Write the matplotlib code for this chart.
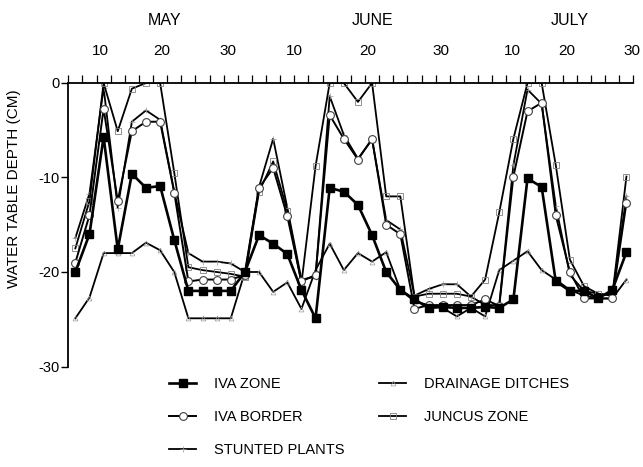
import matplotlib
matplotlib.use("Agg")
import matplotlib.pyplot as plt
from matplotlib.transforms import blended_transform_factory
import numpy as np

plt.rcParams['font.family'] = ['Liberation Sans', 'DejaVu Sans']

# Water table depth (cm) at each of 40 sampling visits, May - July
iva_zone = [-20, -16, -5.7, -17.6, -9.6, -11.1, -10.9, -16.6, -22, -22,
            -22, -22, -20, -16.1, -17, -18.1, -21.9, -24.9, -11.1, -11.5,
            -12.9, -16.1, -20, -21.9, -22.9, -23.8, -23.7, -23.8, -23.8, -23.7,
            -23.8, -22.9, -10.1, -11.0, -21, -22, -22, -22.8, -21.9, -17.9]
iva_border = [-19, -14, -2.7, -12.5, -5.1, -4.1, -4.1, -11.6, -21, -20.8,
              -20.8, -20.8, -20.3, -11.1, -9.0, -14.1, -21, -20.3, -3.4, -5.9,
              -8.1, -5.9, -15, -16, -23.9, -23.5, -23.5, -23.5, -23.5, -22.9,
              -23.6, -9.9, -3.0, -2.1, -14, -20, -22.8, -22.8, -22.8, -12.7]
stunted = [-16.4, -11.7, -0.5, -13.2, -4.1, -2.9, -3.9, -11.5, -18, -18.9,
           -18.9, -19.1, -20, -11, -5.9, -13.2, -20.8, -20.5, -1.4, -5.5,
           -8, -6, -14.5, -15.5, -22.5, -21.8, -21.3, -21.3, -22.6, -23.5,
           -23.5, -8.7, -0.7, -2.2, -13, -20.3, -22, -22.3, -22.5, -12]
drainage = [-24.9, -22.7, -18, -18, -18, -16.9, -17.7, -20, -24.9, -24.9,
            -24.9, -24.9, -20, -20, -22.1, -21.1, -23.9, -19.8, -17, -19.8,
            -18, -18.9, -17.9, -21.9, -23.1, -23.5, -23.8, -24.7, -23.8, -24.7,
            -19.8, -18.8, -17.8, -19.8, -20.8, -21.9, -22.5, -22.8, -22.8, -20.8]
juncus = [-17.5, -12.5, 0, -5.1, -0.6, 0, 0, -9.5, -19.5, -19.8,
          -20, -20.2, -20.5, -11.5, -8.3, -13.5, -21.2, -8.8, 0, 0,
          -2.0, 0, -12, -12, -22.6, -22.3, -22.3, -22.3, -22.6, -20.8,
          -13.7, -5.9, 0, 0, -8.7, -18.7, -21.5, -22.3, -22.5, -9.9]

# Day-of-month labels along the top axis (in sampling-interval units)
day_labels = ['10', '20', '30', '10', '20', '30', '10', '20', '30']
day_label_pos = [2.26, 6.6, 11.3, 16.0, 21.2, 26.4, 31.4, 35.3, 39.9]
months = ['MAY', 'JUNE', 'JULY']
month_pos = [6.84, 21.56, 35.5]

n = len(iva_zone)
x = np.arange(n) + 0.5

fig = plt.figure(figsize=(6.43, 4.67), dpi=100)
ax = fig.add_axes([0.1062, 0.2152, 0.8790, 0.6071])

ax.plot(x, drainage, color='black', lw=1.3, marker='^', ms=3.5,
        mfc='none', mec='0.6', mew=0.5, label='DRAINAGE DITCHES', zorder=2)
ax.plot(x, stunted, color='black', lw=1.3, marker='+', ms=4,
        mec='0.6', mew=0.5, label='STUNTED PLANTS', zorder=2)
ax.plot(x, juncus, color='black', lw=1.3, marker='s', ms=5,
        mfc='none', mec='0.5', mew=0.6, label='JUNCUS ZONE', zorder=2)
ax.plot(x, iva_border, color='black', lw=1.4, marker='o', ms=5.6,
        mfc='white', mec='0.25', mew=0.8, label='IVA BORDER', zorder=3)
ax.plot(x, iva_zone, color='black', lw=1.9, marker='s', ms=5.8,
        mfc='black', mec='black', label='IVA ZONE', zorder=4)

ax.set_xlim(0, n)
ax.set_ylim(-30, 0)

for s in ['right', 'bottom']:
    ax.spines[s].set_visible(False)
for s in ['left', 'top']:
    ax.spines[s].set_linewidth(1.3)

ax.xaxis.set_ticks_position('top')
ax.set_xticks(np.arange(0, n + 1))
ax.tick_params(axis='x', direction='out', length=5.8, width=0.9,
               top=True, bottom=False, labeltop=False, labelbottom=False)
ax.set_yticks([0, -10, -20, -30])
ax.set_yticklabels(['0', '-10', '-20', '-30'])
ax.tick_params(axis='y', direction='out', length=5, width=1.0, pad=1.5,
               labelsize=10.5)

trans = blended_transform_factory(ax.transData, ax.transAxes)
for lab, p in zip(day_labels, day_label_pos):
    ax.text(p, 1.113, lab, transform=trans, ha='center', va='center',
            fontsize=11)
for lab, p in zip(months, month_pos):
    ax.text(p, 1.219, lab, transform=trans, ha='center', va='center',
            fontsize=11.5)

fig.text(0.0218, 0.597, 'WATER TABLE DEPTH (CM)', rotation=90,
         ha='center', va='center', fontsize=11)

handles, labels = ax.get_legend_handles_labels()
order = ['IVA ZONE', 'IVA BORDER', 'STUNTED PLANTS', 'DRAINAGE DITCHES', 'JUNCUS ZONE']
hmap = dict(zip(labels, handles))
leg = fig.legend([hmap[k] for k in order], order, ncol=2, frameon=False,
                 loc='upper left', bbox_to_anchor=(0.263, 0.192),
                 fontsize=10.5, handlelength=1.85, handletextpad=1.2,
                 columnspacing=2.42, labelspacing=1.3, borderpad=0,
                 borderaxespad=0)

fig.savefig('out.png', dpi=100)
